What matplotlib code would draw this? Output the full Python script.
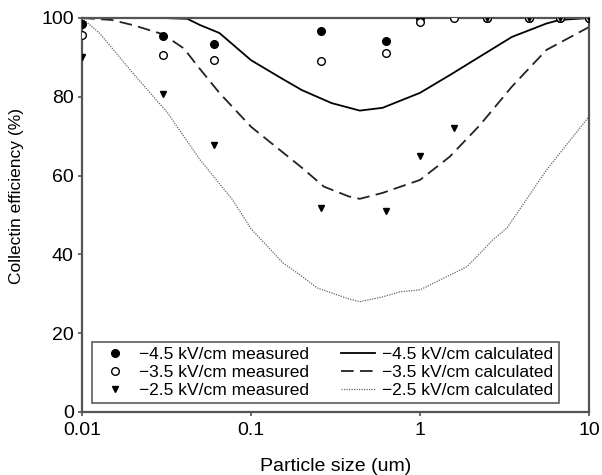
import matplotlib
matplotlib.use("Agg")
import matplotlib.pyplot as plt

plt.rcParams['font.family'] = ['Liberation Sans', 'DejaVu Sans']

# Measured data
meas_x = [0.01, 0.03, 0.06, 0.26, 0.63, 1.0, 1.6, 2.5, 4.4, 6.7, 10]
meas_45 = [98.5, 95.5, 93.4, 96.8, 94.2, 100, None, 100, 100, 100, 100]
meas_35 = [95.8, 90.5, 89.3, 89.0, 91.0, 99.1, 100, 100, 100, 100, 100]
meas_25 = [90.0, 80.8, 67.8, 51.7, 51.1, 65.0, 72.0, 100, 100, 100, 100]

# Calculated curves
calc45_x = [0.01, 0.02, 0.03, 0.042, 0.05, 0.065, 0.1, 0.15, 0.2, 0.3, 0.44, 0.6, 1.0, 1.5, 2.26, 3.5, 5.6, 6.7, 10]
calc45_y = [100, 100, 100, 99.8, 98.2, 96.2, 89.3, 84.8, 81.7, 78.4, 76.5, 77.2, 81.0, 85.5, 90.2, 95.2, 98.6, 99.5, 100]

calc35_x = [0.01, 0.015, 0.02, 0.03, 0.04, 0.05, 0.065, 0.1, 0.2, 0.27, 0.38, 0.44, 0.6, 1.0, 1.5, 2.26, 3.5, 5.6, 10]
calc35_y = [100, 99.5, 98.2, 95.9, 92.3, 87.0, 81.0, 72.4, 62.0, 57.2, 54.7, 54.1, 55.6, 58.9, 64.8, 72.8, 82.6, 91.9, 97.7]

calc25_x = [0.01, 0.0128, 0.02, 0.032, 0.05, 0.078, 0.1, 0.155, 0.195, 0.246, 0.38, 0.44, 0.6, 0.76, 1.0, 1.9, 2.7, 3.27, 5.6, 10]
calc25_y = [100, 96, 86, 76, 64, 53.8, 46.5, 37.8, 34.8, 31.5, 28.7, 28.0, 29.2, 30.5, 31.0, 36.9, 43.7, 46.7, 61.4, 75]

fig = plt.figure(figsize=(6.02, 4.75), dpi=100)
ax = fig.add_axes([82/602, 1 - 412/475, (589-82)/602, (412-18)/475])

def pts(xs, ys):
    px = [x for x, y in zip(xs, ys) if y is not None]
    py = [y for y in ys if y is not None]
    return px, py

h1, = ax.plot(*pts(meas_x, meas_45), 'o', color='black', ms=5.5, ls='none', zorder=3)
h2, = ax.plot(*pts(meas_x, meas_35), 'o', mfc='white', mec='black', mew=1.0, ms=5.5, ls='none', zorder=4)
h3, = ax.plot(*pts(meas_x, meas_25), 'v', color='black', ms=4.5, ls='none', zorder=5)

l1, = ax.plot(calc45_x, calc45_y, '-', color='black', lw=1.3, zorder=2)
l2, = ax.plot(calc35_x, calc35_y, color='#222222', lw=1.3, dashes=(7, 3.5), zorder=2)
l3, = ax.plot(calc25_x, calc25_y, color='#666666', lw=0.9, ls=(0, (1, 1)), zorder=2)

ax.set_xscale('log')
ax.set_xlim(0.01, 10)
ax.set_ylim(0, 100)
ax.set_xticks([0.01, 0.1, 1, 10])
ax.set_xticklabels(['0.01', '0.1', '1', '10'])
ax.xaxis.set_minor_locator(matplotlib.ticker.NullLocator())
ax.set_yticks([0, 20, 40, 60, 80, 100])
ax.tick_params(axis='both', direction='out', length=3, width=1.2, color='#555555',
               labelsize=14)
ax.tick_params(axis='x', pad=4)
ax.tick_params(axis='y', pad=3)
for s in ax.spines.values():
    s.set_color('#555555')
    s.set_linewidth(1.6)

ax.set_xlabel('Particle size (um)', fontsize=14, labelpad=14)
ax.set_ylabel('Collectin efficiency (%)', fontsize=12.5)
ax.yaxis.set_label_coords(-0.115, 0.548)

leg = ax.legend([h1, h2, h3, l1, l2, l3],
                ['\u22124.5 kV/cm measured', '\u22123.5 kV/cm measured', '\u22122.5 kV/cm measured',
                 '\u22124.5 kV/cm calculated', '\u22123.5 kV/cm calculated', '\u22122.5 kV/cm calculated'],
                ncol=2, loc='lower left', bbox_to_anchor=(0.02, 0.023, 0.92, 0.182), mode='expand',
                fontsize=12.5, frameon=True, fancybox=False, handlelength=2.0,
                handletextpad=0.4, borderpad=0.3, labelspacing=0.15, columnspacing=0.8,
                borderaxespad=0)
leg.get_frame().set_edgecolor('#333333')
leg.get_frame().set_linewidth(1.2)
leg.set_zorder(10)

fig.savefig('out.png', dpi=100)
